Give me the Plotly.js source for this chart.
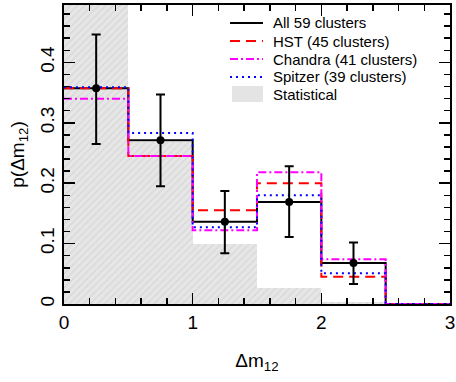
<!DOCTYPE html>
<html>
<head>
<meta charset="utf-8">
<script src="https://cdn.plot.ly/plotly-3.0.1.min.js"></script>
<style>html,body{margin:0;padding:0;background:#fff;}#chart{width:456px;height:382px;}</style>
</head>
<body>
<div id="chart"></div>
<script>
// Bin edges of Δm12 histogram
var binEdges = [0, 0.5, 1.0, 1.5, 2.0, 2.5, 3.0];
var binCenters = [0.25, 0.75, 1.25, 1.75, 2.25];

// Per-bin probabilities (6 bins: 0-0.5 ... 2.5-3)
var allClusters     = [0.357, 0.271, 0.136, 0.169, 0.068, 0.0];
var hstClusters     = [0.357, 0.245, 0.155, 0.200, 0.045, 0.0];
var chandraClusters = [0.340, 0.245, 0.122, 0.218, 0.074, 0.0];
var spitzerClusters = [0.359, 0.283, 0.127, 0.180, 0.051, 0.0];
var statistical     = [0.56, 0.268, 0.099, 0.026, 0.004, 0.0];

// Error bars for "All 59 clusters" points
var allPoints = [0.357, 0.271, 0.136, 0.169, 0.068];
var errUpper  = [0.089, 0.076, 0.051, 0.059, 0.034];
var errLower  = [0.092, 0.076, 0.052, 0.058, 0.035];

var seriesNames = ['All 59 clusters', 'HST (45 clusters)', 'Chandra (41 clusters)', 'Spitzer (39 clusters)', 'Statistical'];

var styles = [
  {color: '#000000', width: 2, dash: 'solid'},
  {color: '#ff0000', width: 2, dash: '10px,6px'},
  {color: '#ff00ff', width: 2, dash: '8px,3px,2px,3px'},
  {color: '#0000ff', width: 2, dash: '2px,4px'}
];
var statFill = '#e4e4e4';

function stepY(v) { return v.concat([v[v.length - 1]]); }

var seriesData = [allClusters, hstClusters, chandraClusters, spitzerClusters];
var traces = [];
var statCenters = binEdges.slice(0, 6).map(function (e, i) { return (e + binEdges[i + 1]) / 2; });
traces.push({x: statCenters, y: statistical, name: seriesNames[4], type: 'bar', width: 0.5,
  marker: {color: statFill, line: {width: 0},
           pattern: {shape: '/', fgcolor: '#d4d4d4', bgcolor: '#e6e6e6', size: 5, solidity: 0.2}}});
seriesData.forEach(function (d, i) {
  traces.push({x: binEdges, y: stepY(d), name: seriesNames[i], type: 'scatter', mode: 'lines',
    line: {shape: 'hv', color: styles[i].color, width: styles[i].width, dash: styles[i].dash}});
});
traces.push({x: binCenters, y: allPoints, type: 'scatter', mode: 'markers',
  marker: {color: '#000000', size: 8},
  error_y: {type: 'data', symmetric: false, array: errUpper, arrayminus: errLower,
            color: '#000000', thickness: 2, width: 4.5}});

var fontFam = '"Liberation Sans", Arial, Helvetica, sans-serif';

// Legend (keys drawn in paper space, top-right of the panel)
var plotL = 64, plotT = 5, plotW = 386, plotH = 299;
function px(p) { return (p - plotL) / plotW; }
function py(p) { return (plotT + plotH - p) / plotH; }
var legRowY = [23, 41, 59, 77, 94];
var annotations = [], shapes = [];
seriesNames.forEach(function (nm, i) {
  annotations.push({xref: 'paper', yref: 'paper', x: px(271), y: py(legRowY[i]), xanchor: 'left', yanchor: 'middle',
    text: nm, showarrow: false, font: {size: 15, family: fontFam, color: '#000'}});
  if (i < 4) {
    shapes.push({type: 'line', xref: 'paper', yref: 'paper', x0: px(230), x1: px(263), y0: py(legRowY[i]), y1: py(legRowY[i]),
      line: {color: styles[i].color, width: styles[i].width, dash: styles[i].dash}});
  } else {
    shapes.push({type: 'rect', xref: 'paper', yref: 'paper', x0: px(232), x1: px(263), y0: py(legRowY[i] - 8), y1: py(legRowY[i] + 8),
      fillcolor: statFill, line: {width: 0}});
  }
});

var layout = {
  width: 456, height: 382,
  margin: {l: 64, r: 6, t: 5, b: 78},
  paper_bgcolor: '#ffffff', plot_bgcolor: '#ffffff',
  font: {family: fontFam, color: '#000000'},
  showlegend: false,
  bargap: 0,
  annotations: annotations,
  shapes: shapes,
  xaxis: {
    range: [0, 3], dtick: 1, tick0: 0, ticks: 'inside', ticklen: 11, tickwidth: 1.5, tickcolor: '#000',
    showline: true, linecolor: '#000', linewidth: 2, mirror: 'allticks',
    showgrid: false, zeroline: false,
    minor: {dtick: 0.2, tick0: 0, ticks: 'inside', ticklen: 6, tickwidth: 1.5, tickcolor: '#000', showgrid: false},
    tickfont: {size: 19, family: fontFam},
    title: {text: 'Δm<sub>12</sub>', font: {size: 19, family: fontFam}, standoff: 22}
  },
  yaxis: {
    range: [0, 0.495], dtick: 0.1, tick0: 0, ticks: 'inside', ticklen: 11, tickwidth: 1.5, tickcolor: '#000',
    showline: true, linecolor: '#000', linewidth: 2, mirror: 'allticks',
    showgrid: false, zeroline: false, tickangle: -90,
    minor: {dtick: 0.02, tick0: 0, ticks: 'inside', ticklen: 6, tickwidth: 1.5, tickcolor: '#000', showgrid: false},
    tickfont: {size: 19, family: fontFam},
    title: {text: 'p(Δm<sub>12</sub>)', font: {size: 19, family: fontFam}, standoff: 8}
  }
};

Plotly.newPlot('chart', traces, layout, {displayModeBar: false, staticPlot: true});
</script>
</body>
</html>
